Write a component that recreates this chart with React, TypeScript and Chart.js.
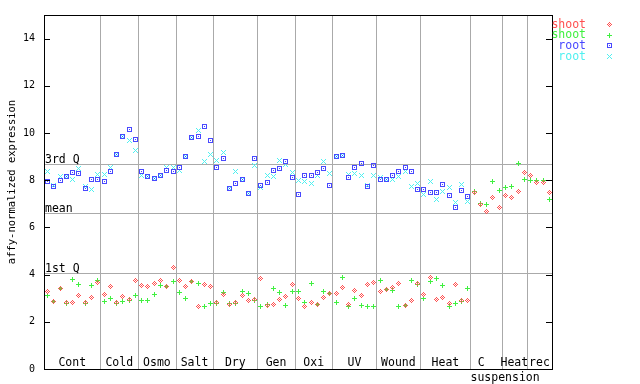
import React, { useEffect, useRef } from 'react';
import { Chart, registerables } from 'chart.js';
Chart.register(...registerables);

// ---- data ----
const groupNames = ['Cont', 'Cold', 'Osmo', 'Salt', 'Dry', 'Gen', 'Oxi', 'UV', 'Wound', 'Heat', 'C\nsuspension', 'Heat', 'rec'];
const groupSizes = [9, 6, 6, 6, 7, 6, 6, 7, 7, 8, 5, 4, 4];

const shootA = [
  3.29, 2.89, 3.43, 2.85, 2.85, 3.12, 2.85, 3.03, 3.69,
  3.16, 3.50, 2.85, 3.09, 2.98, 3.79,
  3.54, 3.50, 3.65, 3.79, 3.50, 4.31,
  3.76, 3.50, 3.72, 2.68, 3.60, 3.50,
  2.85, 3.16, 2.77, 2.85, 3.15, 2.93, 2.98,
  3.86, 2.72, 2.77, 2.98, 3.10, 3.61,
  3.02, 2.68, 2.85, 2.77, 3.06, 3.23,
  3.23, 3.48, 2.77, 3.35, 3.15, 3.61, 3.69,
  3.31, 3.40, 3.48, 3.65, 2.72, 2.93, 3.65,
  3.19, 3.88, 2.98, 3.06, 2.81, 3.61, 2.93, 2.93,
  7.50, 6.98, 6.68, 7.27, 6.85,
  7.36, 7.27, 7.53, 8.33,
  8.24, 7.91, 7.91, 7.48,
];
const shootB = [
  3.12, 2.89, 3.43, 2.81, 3.81, 3.61, 2.78, 3.58, 3.79,
  2.89, 3.02, 2.81, 2.89, 2.91, 3.15,
  2.93, 2.93, 3.19, 3.54, 3.50, 3.75,
  3.27, 3.00, 3.72, 3.64, 2.67, 2.81,
  2.78, 3.27, 2.81, 2.79, 3.31, 3.23, 2.93,
  2.68, 2.77, 3.44, 3.27, 2.72, 3.31,
  3.31, 2.85, 3.65, 2.77, 3.31, 3.23,
  2.85, 3.90, 2.68, 3.02, 2.72, 2.68, 2.68,
  3.78, 3.40, 3.35, 2.68, 2.72, 3.78, 3.61,
  3.02, 3.73, 3.86, 3.57, 2.68, 2.81, 2.89, 3.44,
  7.54, 7.02, 6.98, 7.95, 7.57,
  7.70, 7.74, 8.71, 8.03,
  7.99, 7.99, 7.99, 7.19,
];
const rootA = [
  7.95, 7.74, 7.99, 8.16, 8.33, 8.29, 7.65, 8.03, 8.07,
  7.95, 8.37, 9.13, 9.87, 10.18, 9.76,
  8.41, 8.17, 8.10, 8.21, 8.42, 8.38,
  8.56, 9.01, 9.81, 9.86, 10.31, 9.69,
  8.55, 8.92, 7.65, 7.87, 8.07, 7.44, 8.92,
  7.79, 7.91, 8.42, 8.50, 8.83, 8.12,
  7.40, 8.24, 8.24, 8.35, 8.50, 7.78,
  9.01, 9.06, 8.13, 8.55, 8.75, 7.76, 8.66,
  8.03, 8.03, 8.24, 8.41, 8.58, 8.38, 7.61,
  7.61, 7.48, 7.48, 7.86, 7.36, 6.85, 7.57, 7.31,
];
const rootB = [
  8.38, 7.80, 8.17, 8.16, 8.03, 8.51, 7.74, 7.61, 8.28,
  8.28, 8.58, 9.13, 9.87, 9.72, 9.30,
  8.24, 8.17, 8.10, 8.21, 8.58, 8.58,
  8.42, 9.01, 9.81, 10.14, 8.83, 9.13,
  8.87, 9.20, 7.65, 8.41, 8.07, 7.44, 8.64,
  7.71, 8.20, 8.16, 8.87, 8.69, 8.34,
  8.01, 7.95, 7.89, 8.21, 8.80, 8.31,
  9.01, 9.06, 8.27, 8.31, 8.20, 7.80, 8.24,
  8.12, 8.03, 8.07, 8.18, 8.38, 7.75, 7.89,
  7.43, 7.95, 7.19, 7.53, 7.70, 7.06, 7.82, 7.11,
];

const seriesNames = ['shoot', 'shoot', 'root', 'root'];
const seriesColors = ['#ff5050', '#40f040', '#4848ff', '#50f0f0'];
const yTicks = [0, 2, 4, 6, 8, 10, 12, 14];
const refLineNames = ['3rd Q', 'mean', '1st Q'];
const refLineValues = [8.67, 6.60, 4.07];
const yTitle = 'affy-normalized expression';

const MARKERS = [
  ['..#..', '.#.#.', '#.#.#', '.#.#.', '..#..'],
  ['..#..', '..#..', '#####', '..#..', '..#..'],
  ['#####', '#...#', '#.#.#', '#...#', '#####'],
  ['#...#', '.#.#.', '..#..', '.#.#.', '#...#'],
];

const FONT = 'DejaVu Sans Mono';

export default function App() {
  const ref = useRef<HTMLCanvasElement>(null);
  useEffect(() => {
    const mk = (rows: string[], color: string) => {
      const c = document.createElement('canvas');
      c.width = rows[0].length;
      c.height = rows.length;
      const g = c.getContext('2d')!;
      g.fillStyle = color;
      rows.forEach((r, y) => r.split('').forEach((ch, x) => { if (ch === '#') g.fillRect(x, y, 1, 1); }));
      return c;
    };
    const markers = MARKERS.map((m, i) => mk(m, seriesColors[i]));
    const series = [shootA, shootB, rootA, rootB];
    const bounds: number[] = [0];
    groupSizes.forEach((s) => bounds.push(bounds[bounds.length - 1] + s));
    const total = bounds[bounds.length - 1];

    const stamp = (ctx: CanvasRenderingContext2D, m: HTMLCanvasElement, x: number, y: number) => {
      ctx.drawImage(m, Math.round(x) - Math.floor(m.width / 2), Math.round(y) - Math.floor(m.height / 2));
    };

    const deco = {
      id: 'deco',
      beforeDatasetsDraw(chart: any) {
        const ctx = chart.ctx as CanvasRenderingContext2D;
        const { left, right, top, bottom } = chart.chartArea;
        const xs = chart.scales.x, ys = chart.scales.y;
        ctx.save();
        ctx.strokeStyle = '#aaaaaa';
        ctx.lineWidth = 1;
        bounds.slice(1, -1).forEach((b) => {
          const px = Math.round(xs.getPixelForValue(b)) + 0.5;
          ctx.beginPath(); ctx.moveTo(px, top); ctx.lineTo(px, bottom); ctx.stroke();
        });
        ctx.fillStyle = '#000';
        ctx.font = `11.5px "${FONT}"`;
        ctx.textAlign = 'left';
        ctx.textBaseline = 'alphabetic';
        refLineValues.forEach((v, i) => {
          const py = Math.round(ys.getPixelForValue(v)) + 0.5;
          ctx.beginPath(); ctx.moveTo(left, py); ctx.lineTo(right, py); ctx.stroke();
          ctx.fillText(refLineNames[i], left + 1, py - 1.5);
        });
        ctx.restore();
      },
      beforeDatasetDraw(chart: any, args: any) {
        const ctx = chart.ctx as CanvasRenderingContext2D;
        const m = markers[args.index];
        ctx.save();
        ctx.imageSmoothingEnabled = false;
        args.meta.data.forEach((el: any) => stamp(ctx, m, el.x, el.y));
        ctx.restore();
        return false;
      },
      afterDraw(chart: any) {
        const ctx = chart.ctx as CanvasRenderingContext2D;
        const { left, right, top, bottom } = chart.chartArea;
        const xs = chart.scales.x, ys = chart.scales.y;
        ctx.save();
        ctx.imageSmoothingEnabled = false;
        ctx.strokeStyle = '#000';
        ctx.lineWidth = 1;
        ctx.strokeRect(left + 0.5, top + 0.5, right - left, bottom - top);
        yTicks.forEach((t) => {
          const py = Math.round(ys.getPixelForValue(t)) + 0.5;
          ctx.beginPath();
          ctx.moveTo(left, py); ctx.lineTo(left + 6, py);
          ctx.moveTo(right - 6, py); ctx.lineTo(right + 1, py);
          ctx.stroke();
        });
        // group labels
        ctx.fillStyle = '#000';
        ctx.font = `11.5px "${FONT}"`;
        ctx.textBaseline = 'alphabetic';
        groupNames.forEach((name, i) => {
          const lines = name.split('\n');
          const cx = xs.getPixelForValue((bounds[i] + bounds[i + 1]) / 2);
          ctx.textAlign = 'center';
          ctx.fillText(lines[0], cx - (lines.length > 1 ? 5 : 0), bottom - 3);
          for (let k = 1; k < lines.length; k++) {
            ctx.textAlign = 'left';
            ctx.fillText(lines[k], xs.getPixelForValue(bounds[i]), bottom - 3 + 15 * k);
          }
        });
        // y title
        ctx.save();
        ctx.font = `10.5px "${FONT}"`;
        ctx.translate(15, 182);
        ctx.rotate(-Math.PI / 2);
        ctx.textAlign = 'center';
        ctx.fillText(yTitle, 0, 0);
        ctx.restore();
        // legend
        ctx.font = `11.5px "${FONT}"`;
        ctx.textAlign = 'right';
        seriesNames.forEach((n, i) => {
          const cy = 24 + i * 10.7;
          ctx.fillStyle = seriesColors[i];
          ctx.fillText(n, 586, cy + 3.5);
          stamp(ctx, markers[i], 609, cy);
        });
        ctx.restore();
      },
    };

    const chart = new Chart(ref.current!, {
      type: 'scatter',
      data: {
        datasets: series.map((arr, i) => ({
          label: seriesNames[i],
          data: arr.map((v, k) => ({ x: k + 0.5, y: v })),
          pointRadius: 3,
          showLine: false,
          order: i,
        })),
      },
      options: {
        animation: false,
        responsive: false,
        devicePixelRatio: 1,
        layout: { padding: { left: 0, top: 13, right: 88, bottom: 15 } },
        plugins: { legend: { display: false }, tooltip: { enabled: false } },
        scales: {
          x: { type: 'linear', min: 0, max: total, display: false },
          y: {
            type: 'linear', min: 0, max: 15,
            afterBuildTicks: (s: any) => { s.ticks = yTicks.map((v) => ({ value: v })); },
            afterFit: (s: any) => { s.width = 44; },
            grid: { display: false, drawTicks: false },
            border: { display: false },
            ticks: { color: '#000', font: { family: FONT, size: 10 }, padding: 9 },
          },
        },
      },
      plugins: [deco],
    });
    return () => chart.destroy();
  }, []);
  return (
    <div style={{ position: 'fixed', left: 0, top: 0, width: 640, height: 384, background: '#fff' }}>
      <canvas ref={ref} width={640} height={384} />
    </div>
  );
}
